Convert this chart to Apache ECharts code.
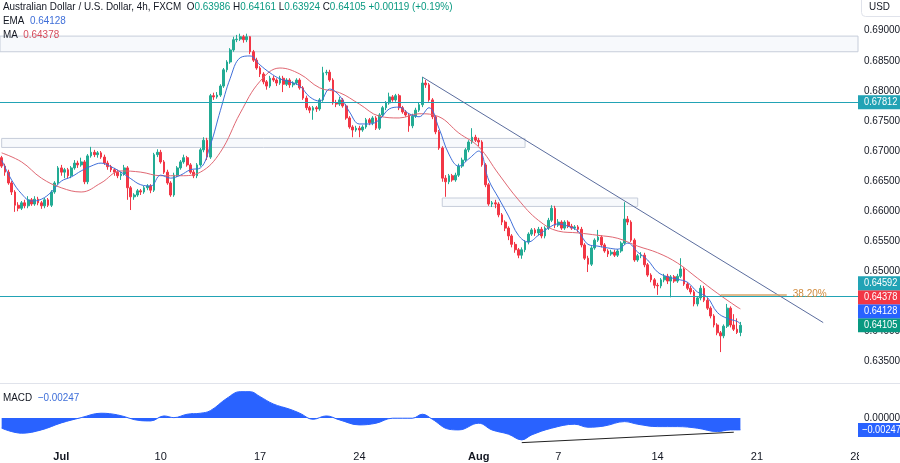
<!DOCTYPE html>
<html><head><meta charset="utf-8">
<script src="https://cdn.jsdelivr.net/npm/echarts@6/dist/echarts.min.js"></script>
<style>html,body{margin:0;padding:0;background:#fff}#c{width:900px;height:463px}</style>
</head><body><div id="c"></div><script>
// ---- time slots (4h bars, trading days) ----
const tradingDays = ['06-28','06-29','06-30',
 '07-03','07-04','07-05','07-06','07-07','07-10','07-11','07-12','07-13','07-14',
 '07-17','07-18','07-19','07-20','07-21','07-24','07-25','07-26','07-27','07-28',
 '07-31','08-01','08-02','08-03','08-04','08-07','08-08','08-09','08-10','08-11',
 '08-14','08-15','08-16','08-17','08-18','08-21','08-22','08-23','08-24','08-25'];
const barHours = ['00','04','08','12','16','20'];
const lastSlot = '08-28 00';
const tickLabels = {'07-03 00':'Jul','07-10 00':'10','07-17 00':'17','07-24 00':'24','08-01 00':'Aug','08-07 00':'7','08-14 00':'14','08-21 00':'21','08-28 00':'28'};
const boldTicks = ['Jul','Aug'];

// ---- AUD/USD 4h OHLC ----
const open = [.6689,.6675,.6665,.6647,.6632,.6610,.6605,.6614,.6609,.6619,
.6612,.6620,.6614,.6609,.6619,.6610,.6632,.6647,.6672,.6665,
.6669,.6659,.6672,.6680,.6677,.6682,.6649,.6692,.6698,.6694,
.6697,.6690,.6680,.6674,.6669,.6665,.6659,.6662,.6672,.6639,
.6624,.6627,.6634,.6632,.6639,.6642,.6635,.6694,.6698,.6682,
.6665,.6647,.6627,.6660,.6672,.6682,.6689,.6677,.6665,.6659,
.6677,.6702,.6718,.6690,.6792,.6790,.6793,.6808,.6835,.6848,
.6868,.6885,.6886,.6890,.6885,.6890,.6865,.6851,.6838,.6828,
.6815,.6808,.6821,.6818,.6813,.6821,.6811,.6818,.6810,.6813,
.6818,.6805,.6788,.6772,.6768,.6772,.6770,.6785,.6830,.6831,
.6818,.6780,.6778,.6785,.6775,.6755,.6740,.6735,.6738,.6735,
.6740,.6752,.6747,.6755,.6738,.6760,.6772,.6780,.6790,.6785,
.6792,.6772,.6765,.6760,.6742,.6758,.6768,.6777,.6813,.6810,
.6785,.6757,.6732,.6705,.6655,.6649,.6659,.6652,.6660,.6675,
.6685,.6702,.6715,.6723,.6718,.6715,.6677,.6644,.6612,.6614,
.6612,.6594,.6582,.6572,.6559,.6545,.6536,.6527,.6536,.6549,
.6562,.6569,.6564,.6570,.6559,.6572,.6585,.6605,.6577,.6582,
.6572,.6582,.6575,.6572,.6574,.6570,.6544,.6522,.6512,.6539,
.6552,.6557,.6544,.6534,.6529,.6532,.6527,.6534,.6547,.6587,
.6582,.6552,.6519,.6526,.6527,.6511,.6494,.6486,.6477,.6476,
.6486,.6492,.6484,.6491,.6484,.6492,.6504,.6479,.6472,.6466,
.6446,.6456,.6472,.6452,.6439,.6426,.6411,.6398,.6393,.6409,
.6439,.6411,.6404,.63986];
const high = [.6692,.6679,.6669,.6650,.6635,.6615,.6617,.6619,.6625,.6622,
.6625,.6624,.6617,.6622,.6622,.6635,.6650,.6675,.6677,.6672,
.6672,.6675,.6685,.6684,.6689,.6685,.6695,.6707,.6702,.6700,
.6700,.6694,.6684,.6677,.6672,.6669,.6665,.6677,.6675,.6642,
.6630,.6637,.6637,.6642,.6645,.6645,.6697,.6703,.6702,.6685,
.6669,.6650,.6664,.6675,.6685,.6694,.6692,.6680,.6669,.6680,
.6705,.6723,.6722,.6795,.6797,.6798,.6811,.6838,.6851,.6871,
.6890,.6893,.6895,.6893,.6895,.6891,.6868,.6855,.6841,.6831,
.6818,.6825,.6825,.6821,.6825,.6825,.6821,.6821,.6816,.6821,
.6821,.6808,.6792,.6775,.6775,.6775,.6788,.6840,.6835,.6835,
.6821,.6785,.6790,.6788,.6778,.6758,.6743,.6742,.6742,.6743,
.6755,.6755,.6758,.6758,.6763,.6775,.6783,.6797,.6793,.6795,
.6795,.6775,.6768,.6763,.6762,.6772,.6780,.6823,.6818,.6813,
.6788,.6760,.6735,.6708,.6660,.6662,.6662,.6664,.6679,.6689,
.6705,.6718,.6738,.6727,.6722,.6718,.6680,.6647,.6617,.6619,
.6615,.6597,.6585,.6575,.6562,.6549,.6539,.6540,.6552,.6565,
.6572,.6572,.6574,.6574,.6575,.6589,.6610,.6609,.6587,.6585,
.6585,.6585,.6579,.6577,.6577,.6574,.6547,.6526,.6542,.6555,
.6569,.6560,.6547,.6537,.6536,.6536,.6537,.6550,.6615,.6592,
.6585,.6555,.6529,.6532,.6531,.6514,.6497,.6489,.6481,.6489,
.6496,.6496,.6494,.6494,.6496,.6522,.6507,.6482,.6476,.6469,
.6459,.6477,.6476,.6456,.6442,.6429,.6414,.6401,.6412,.6446,
.6442,.6429,.6422,.64161];
const low = [.6672,.6659,.6644,.6627,.6599,.6600,.6602,.6605,.6605,.6609,
.6609,.6610,.6604,.6605,.6607,.6607,.6629,.6644,.6659,.6655,
.6655,.6655,.6669,.6672,.6674,.6645,.6645,.6689,.6690,.6689,
.6687,.6677,.6669,.6665,.6659,.6655,.6652,.6659,.6619,.6602,
.6619,.6624,.6627,.6629,.6635,.6630,.6632,.6690,.6679,.6662,
.6644,.6624,.6624,.6657,.6669,.6679,.6674,.6662,.6655,.6655,
.6674,.6698,.6685,.6687,.6785,.6787,.6790,.6805,.6831,.6845,
.6865,.6881,.6883,.6880,.6881,.6861,.6848,.6835,.6823,.6811,
.6802,.6805,.6815,.6808,.6810,.6798,.6808,.6805,.6806,.6810,
.6802,.6785,.6768,.6763,.6752,.6765,.6767,.6782,.6826,.6815,
.6777,.6773,.6775,.6772,.6752,.6737,.6723,.6732,.6723,.6732,
.6737,.6743,.6743,.6735,.6735,.6757,.6768,.6777,.6782,.6782,
.6768,.6762,.6757,.6732,.6738,.6755,.6765,.6773,.6805,.6782,
.6753,.6728,.6702,.6649,.6624,.6645,.6649,.6649,.6657,.6672,
.6682,.6698,.6712,.6715,.6708,.6674,.6640,.6609,.6607,.6605,
.6590,.6577,.6567,.6552,.6540,.6531,.6522,.6521,.6532,.6545,
.6559,.6559,.6560,.6555,.6555,.6569,.6582,.6572,.6574,.6569,
.6569,.6572,.6569,.6569,.6565,.6540,.6519,.6499,.6509,.6536,
.6549,.6540,.6531,.6524,.6526,.6524,.6524,.6531,.6544,.6577,
.6549,.6516,.6516,.6522,.6507,.6491,.6482,.6472,.6461,.6472,
.6482,.6479,.6457,.6481,.6481,.6489,.6476,.6469,.6462,.6442,
.6442,.6452,.6449,.6436,.6422,.6407,.6394,.6366,.6389,.6406,
.6407,.6401,.6396,.63924];
const close = [.6675,.6665,.6647,.6632,.6610,.6605,.6614,.6609,.6619,.6612,
.6620,.6614,.6609,.6619,.6610,.6632,.6647,.6672,.6665,.6669,
.6659,.6672,.6680,.6677,.6682,.6649,.6692,.6698,.6694,.6697,
.6690,.6680,.6674,.6669,.6665,.6659,.6662,.6672,.6639,.6624,
.6627,.6634,.6632,.6639,.6642,.6635,.6694,.6698,.6682,.6665,
.6647,.6627,.6660,.6672,.6682,.6689,.6677,.6665,.6659,.6677,
.6702,.6718,.6690,.6792,.6790,.6793,.6808,.6835,.6848,.6868,
.6885,.6886,.6890,.6885,.6890,.6865,.6851,.6838,.6828,.6815,
.6808,.6821,.6818,.6813,.6821,.6811,.6818,.6810,.6813,.6818,
.6805,.6788,.6772,.6768,.6772,.6770,.6785,.6830,.6831,.6818,
.6780,.6778,.6785,.6775,.6755,.6740,.6735,.6738,.6735,.6740,
.6752,.6747,.6755,.6738,.6760,.6772,.6780,.6790,.6785,.6792,
.6772,.6765,.6760,.6742,.6758,.6768,.6777,.6813,.6810,.6785,
.6757,.6732,.6705,.6655,.6649,.6659,.6652,.6660,.6675,.6685,
.6702,.6715,.6723,.6718,.6715,.6677,.6644,.6612,.6614,.6612,
.6594,.6582,.6572,.6559,.6545,.6536,.6527,.6536,.6549,.6562,
.6569,.6564,.6570,.6559,.6572,.6585,.6605,.6577,.6582,.6572,
.6582,.6575,.6572,.6574,.6570,.6544,.6522,.6512,.6539,.6552,
.6557,.6544,.6534,.6529,.6532,.6527,.6534,.6547,.6587,.6582,
.6552,.6519,.6526,.6527,.6511,.6494,.6486,.6477,.6476,.6486,
.6492,.6484,.6491,.6484,.6492,.6504,.6479,.6472,.6466,.6446,
.6456,.6472,.6452,.6439,.6426,.6411,.6398,.6393,.6409,.6439,
.6411,.6404,.63986,.64105];

// ---- indicators: [bar, value] ----
const ema = [[0,.6685],[3,.6652],[6,.6629],[9,.6617],[12,.6620],[15,.6632],[18,.6650],[21,.6657],[24,.6667],[27,.6675],
[30,.6680],[33,.6674],[36,.6665],[39,.6654],[42,.6644],[45,.6642],[48,.6660],[51,.6655],[54,.6660],[57,.6669],
[60,.6672],[63,.6710],[66,.6767],[69,.6821],[72,.6855],[75,.6858],[78,.6843],[81,.6830],[84,.6820],[87,.6815],
[90,.6808],[93,.6790],[96,.6783],[99,.6803],[102,.6792],[105,.6765],[108,.6745],[111,.6745],[114,.6752],[117,.6770],
[120,.6773],[123,.6762],[126,.6757],[129,.6772],[132,.6738],[135,.6695],[138,.6675],[141,.6687],[144,.6700],[147,.6652],
[150,.6622],[153,.6592],[156,.6560],[159,.6549],[162,.6560],[165,.6572],[168,.6579],[171,.6575],[174,.6567],[177,.6545],
[180,.6542],[183,.6539],[186,.6537],[189,.6547],[192,.6532],[195,.6519],[198,.6499],[201,.6491],[204,.6487],[207,.6482],
[210,.6466],[213,.6457],[216,.6432],[219,.6422],[222,.6417],[223,.64128]];
const ma = [[0,.6697],[6,.6682],[12,.6655],[18,.6639],[24,.6632],[30,.6647],[36,.6667],[42,.6665],[48,.6659],[54,.6659],
[60,.6665],[66,.6698],[72,.6763],[78,.6816],[84,.6838],[90,.6828],[96,.6805],[102,.6797],[108,.6778],[114,.6758],
[120,.6755],[126,.6762],[132,.6757],[138,.6730],[144,.6707],[150,.6662],[156,.6619],[162,.6585],[168,.6567],[174,.6564],
[180,.6560],[186,.6555],[192,.6542],[198,.6531],[204,.6514],[210,.6489],[216,.6464],[222,.6441],[223,.64378]];
const macd = [[0,-0.00212],[6,-0.00315],[12,-0.00247],[18,-0.00103],[24,0.00006],[30,0.00097],[35,0.00062],[42,-0.00056],[45,-0.00062],[49,0.00041],
[52,0.00006],[56,0.00076],[60,0.00097],[63,0.0015],[68,0.00406],[72,0.00542],[75,0.00542],[78,0.00439],[82,0.00288],[87,0.00179],
[90,0.00097],[94,-0.00027],[98,0.00041],[102,-0.00041],[108,-0.00144],[113,-0.00109],[118,-0.00006],[124,-0.00006],[127,0.00076],[130,-0.00027],
[135,-0.00233],[138,-0.00247],[144,-0.00109],[148,-0.00247],[153,-0.00336],[157,-0.00453],[160,-0.0035],[166,-0.00212],[173,-0.0013],[177,-0.00192],
[182,-0.00165],[188,-0.00076],[192,-0.0013],[198,-0.00179],[204,-0.00179],[210,-0.00212],[216,-0.00282],[220,-0.00247],[223,-0.00247]];

// ---- drawings (in time slot / price terms) ----
const levelResistance = 0.67812;
const levelSupport = 0.64592;
const zoneTop = [0.6891, 0.6865];
const zoneMid = ['06-28 00', '08-03 08', 0.6721, 0.6706];
const zoneLow = ['07-28 04', '08-11 00', 0.6622, 0.6608];
const trendLine = [['07-27 04', 0.6823], ['08-24 08', 0.6415]];
const fibLevel = ['08-17 04', '08-22 12', 0.6462, '38.20%'];
const macdDivergence = [['08-03 04', -0.0051], ['08-17 20', -0.00295]];

const categories = [];
tradingDays.forEach(d => barHours.forEach(h => categories.push(d + ' ' + h)));
categories.push(lastSlot);
const ix = s => categories.indexOf(s);

const FONT = "'Liberation Sans',Arial,sans-serif";
const INK = '#131722';
const UP = '#22ab94', DOWN = '#f23645';
const TEAL = '#22a3b5';

const candles = open.map((o, i) => [o, close[i], low[i], high[i]]);

const chart = echarts.init(document.getElementById('c'), null, {renderer: 'canvas'});
chart.setOption({
  animation: false,
  backgroundColor: '#ffffff',
  textStyle: {fontFamily: FONT},
  grid: [
    {left: 0, right: 42, top: 0.6, height: 391.2, outerBoundsMode: 'none'},
    {left: 0, right: 42, top: 384, height: 63, outerBoundsMode: 'none'}
  ],
  xAxis: [
    {type: 'category', gridIndex: 0, data: categories, boundaryGap: true,
     axisLine: {show: false}, axisTick: {show: false}, axisLabel: {show: false}, splitLine: {show: false}},
    {type: 'category', gridIndex: 1, data: categories, boundaryGap: true,
     axisLine: {show: false}, axisTick: {show: false}, splitLine: {show: false},
     axisLabel: {
       interval: (i, v) => Object.prototype.hasOwnProperty.call(tickLabels, v),
       formatter: v => { const t = tickLabels[v] || ''; return boldTicks.includes(t) ? '{b|' + t + '}' : t; },
       color: INK, fontSize: 11, fontFamily: FONT, margin: 4,
       alignMinLabel: 'center', alignMaxLabel: 'center', hideOverlap: false,
       rich: {b: {fontWeight: 'bold', color: INK, fontSize: 11, fontFamily: FONT}}
     }}
  ],
  yAxis: [
    {type: 'value', gridIndex: 0, position: 'right', min: 0.630, max: 0.695, interval: 0.005,
     splitLine: {show: false}, axisLine: {show: false}, axisTick: {show: false},
     axisLabel: {formatter: v => v.toFixed(5), showMinLabel: false, showMaxLabel: false,
                 color: INK, fontSize: 10, fontFamily: FONT, margin: 6}},
    {type: 'value', gridIndex: 1, position: 'right', min: -0.006, max: 0.007, interval: 0.001,
     splitLine: {show: false}, axisLine: {show: false}, axisTick: {show: false},
     axisLabel: {formatter: v => Math.abs(v) < 1e-9 ? '0.00000' : '',
                 color: INK, fontSize: 10, fontFamily: FONT, margin: 6}}
  ],
  series: [
    {type: 'candlestick', xAxisIndex: 0, yAxisIndex: 0, data: candles, barWidth: '68%',
     itemStyle: {color: UP, color0: DOWN, borderColor: UP, borderColor0: DOWN, borderWidth: 1},
     markArea: {silent: true,
       itemStyle: {color: 'rgba(200,210,232,0.14)', borderColor: '#c6cdda', borderWidth: 1},
       label: {show: false},
       data: [
         [{yAxis: zoneTop[0]}, {yAxis: zoneTop[1]}],
         [{coord: [ix(zoneMid[0]), zoneMid[2]]}, {coord: [ix(zoneMid[1]), zoneMid[3]]}],
         [{coord: [ix(zoneLow[0]), zoneLow[2]]}, {coord: [ix(zoneLow[1]), zoneLow[3]]}]
       ]},
     markLine: {silent: true, symbol: 'none', precision: 5, label: {show: false},
       lineStyle: {color: TEAL, width: 1, type: 'solid'},
       data: [
         {yAxis: levelResistance},
         {yAxis: levelSupport},
         [{coord: [ix(trendLine[0][0]), trendLine[0][1]], lineStyle: {color: '#5b6d9e', width: 1, type: 'solid'}},
          {coord: [ix(trendLine[1][0]), trendLine[1][1]]}],
         [{coord: [ix(fibLevel[0]), fibLevel[2]], lineStyle: {color: '#d9a46a', width: 1.5, type: 'solid'},
           label: {show: true, position: 'end', formatter: fibLevel[3], color: '#d08a3c', fontSize: 10, fontFamily: FONT, distance: 6}},
          {coord: [ix(fibLevel[1]), fibLevel[2]]}]
       ]}
    },
    {type: 'line', name: 'MA', xAxisIndex: 0, yAxisIndex: 0, data: ma, smooth: 0.4, symbol: 'none',
     lineStyle: {color: '#e06873', width: 1}, z: 3},
    {type: 'line', name: 'EMA', xAxisIndex: 0, yAxisIndex: 0, data: ema, smooth: 0.4, symbol: 'none',
     lineStyle: {color: '#3f6fd9', width: 1}, z: 3},
    {type: 'line', name: 'MACD', xAxisIndex: 1, yAxisIndex: 1, data: macd, smooth: 0.4, symbol: 'none',
     lineStyle: {color: '#2962ff', width: 1}, areaStyle: {color: '#2962ff', opacity: 1, origin: 0},
     markLine: {silent: true, symbol: 'none', precision: 6, label: {show: false},
       data: [[{coord: [ix(macdDivergence[0][0]), macdDivergence[0][1]], lineStyle: {color: '#222', width: 1, type: 'solid'}},
               {coord: [ix(macdDivergence[1][0]), macdDivergence[1][1]]}]]}}
  ]
});

// ---- header, tags and frame ----
const n = close.length - 1;
const chg = close[n] - close[n - 1];
const pct = chg / close[n - 1] * 100;
const f5 = v => v.toFixed(5);
const sgn = v => (v >= 0 ? '+' : '\u2212');
const F11 = '11px ' + FONT;
const txt = (x, y, text, rich, sx, fill) => ({type: 'text', x, y, z: 100, scaleX: sx || 1,
  style: {text, rich, font: F11, fill: fill || INK, verticalAlign: 'middle'}});
const G = [];
const R = {t: {fill: INK, font: F11}, k: {fill: INK, font: F11}, v: {fill: '#089981', font: F11},
           b: {fill: '#3f6fd9', font: F11}, r: {fill: '#d64c5c', font: F11}};
G.push(txt(3, 7, '{t|Australian Dollar / U.S. Dollar, 4h, FXCM}  {k|O}{v|' + f5(open[n]) + '} {k|H}{v|' + f5(high[n]) +
  '} {k|L}{v|' + f5(low[n]) + '} {k|C}{v|' + f5(close[n]) + '} {v|' + sgn(chg) + f5(Math.abs(chg)) + ' (' + sgn(pct) + Math.abs(pct).toFixed(2) + '%)}', R, 0.9));
G.push(txt(3, 21, '{k|EMA}  {b|' + f5(ema[ema.length - 1][1]) + '}', R, 0.9));
G.push(txt(3, 35, '{k|MA}  {r|' + f5(ma[ma.length - 1][1]) + '}', R, 0.9));
const macdLast = macd[macd.length - 1][1];
G.push(txt(3, 398, '{k|MACD}  {b|' + sgn(macdLast) + f5(Math.abs(macdLast)) + '}', R, 0.9));

// pane separator
G.push({type: 'line', z: 90, shape: {x1: 0, y1: 383.5, x2: 900, y2: 383.5}, style: {stroke: '#e0e3eb', lineWidth: 1}});
// USD box
G.push({type: 'rect', z: 95, shape: {x: 861.5, y: -4.5, width: 44, height: 21, r: 4}, style: {fill: '#fff', stroke: '#e0e3eb', lineWidth: 1}});
G.push(txt(869, 7, 'USD', null, 0.9));
// price-scale column covers the edge of the time scale
G.push({type: 'rect', z: 95, shape: {x: 859, y: 448, width: 41, height: 15}, style: {fill: '#fff'}});

// price tags (stacked like the reference)
const tags = [
  {v: levelResistance, c: TEAL},
  {v: levelSupport, c: TEAL},
  {v: ma[ma.length - 1][1], c: '#f23645'},
  {v: ema[ema.length - 1][1], c: '#2962ff'},
  {v: close[n], c: '#089981'}
].map(t => Object.assign(t, {y: chart.convertToPixel({yAxisIndex: 0}, t.v)}));
tags.sort((a, b) => b.y - a.y);
for (let i = 1; i < tags.length; i++) tags[i].y = Math.min(tags[i].y, tags[i - 1].y - 14);
tags.forEach(t => {
  G.push({type: 'rect', z: 96, shape: {x: 858, y: t.y - 7, width: 42, height: 14}, style: {fill: t.c}});
  const e = txt(864, t.y, f5(t.v), null, 0.84, '#fff'); e.z = 97; G.push(e);
});
let my = chart.convertToPixel({yAxisIndex: 1}, macdLast);
my = Math.max(my, chart.convertToPixel({yAxisIndex: 1}, 0) + 11);
G.push({type: 'rect', z: 96, shape: {x: 858, y: my - 7, width: 42, height: 14}, style: {fill: '#2962ff'}});
const me = txt(862, my, sgn(macdLast) + f5(Math.abs(macdLast)), null, 0.84, '#fff'); me.z = 97; G.push(me);

chart.setOption({graphic: G});
</script></body></html>
